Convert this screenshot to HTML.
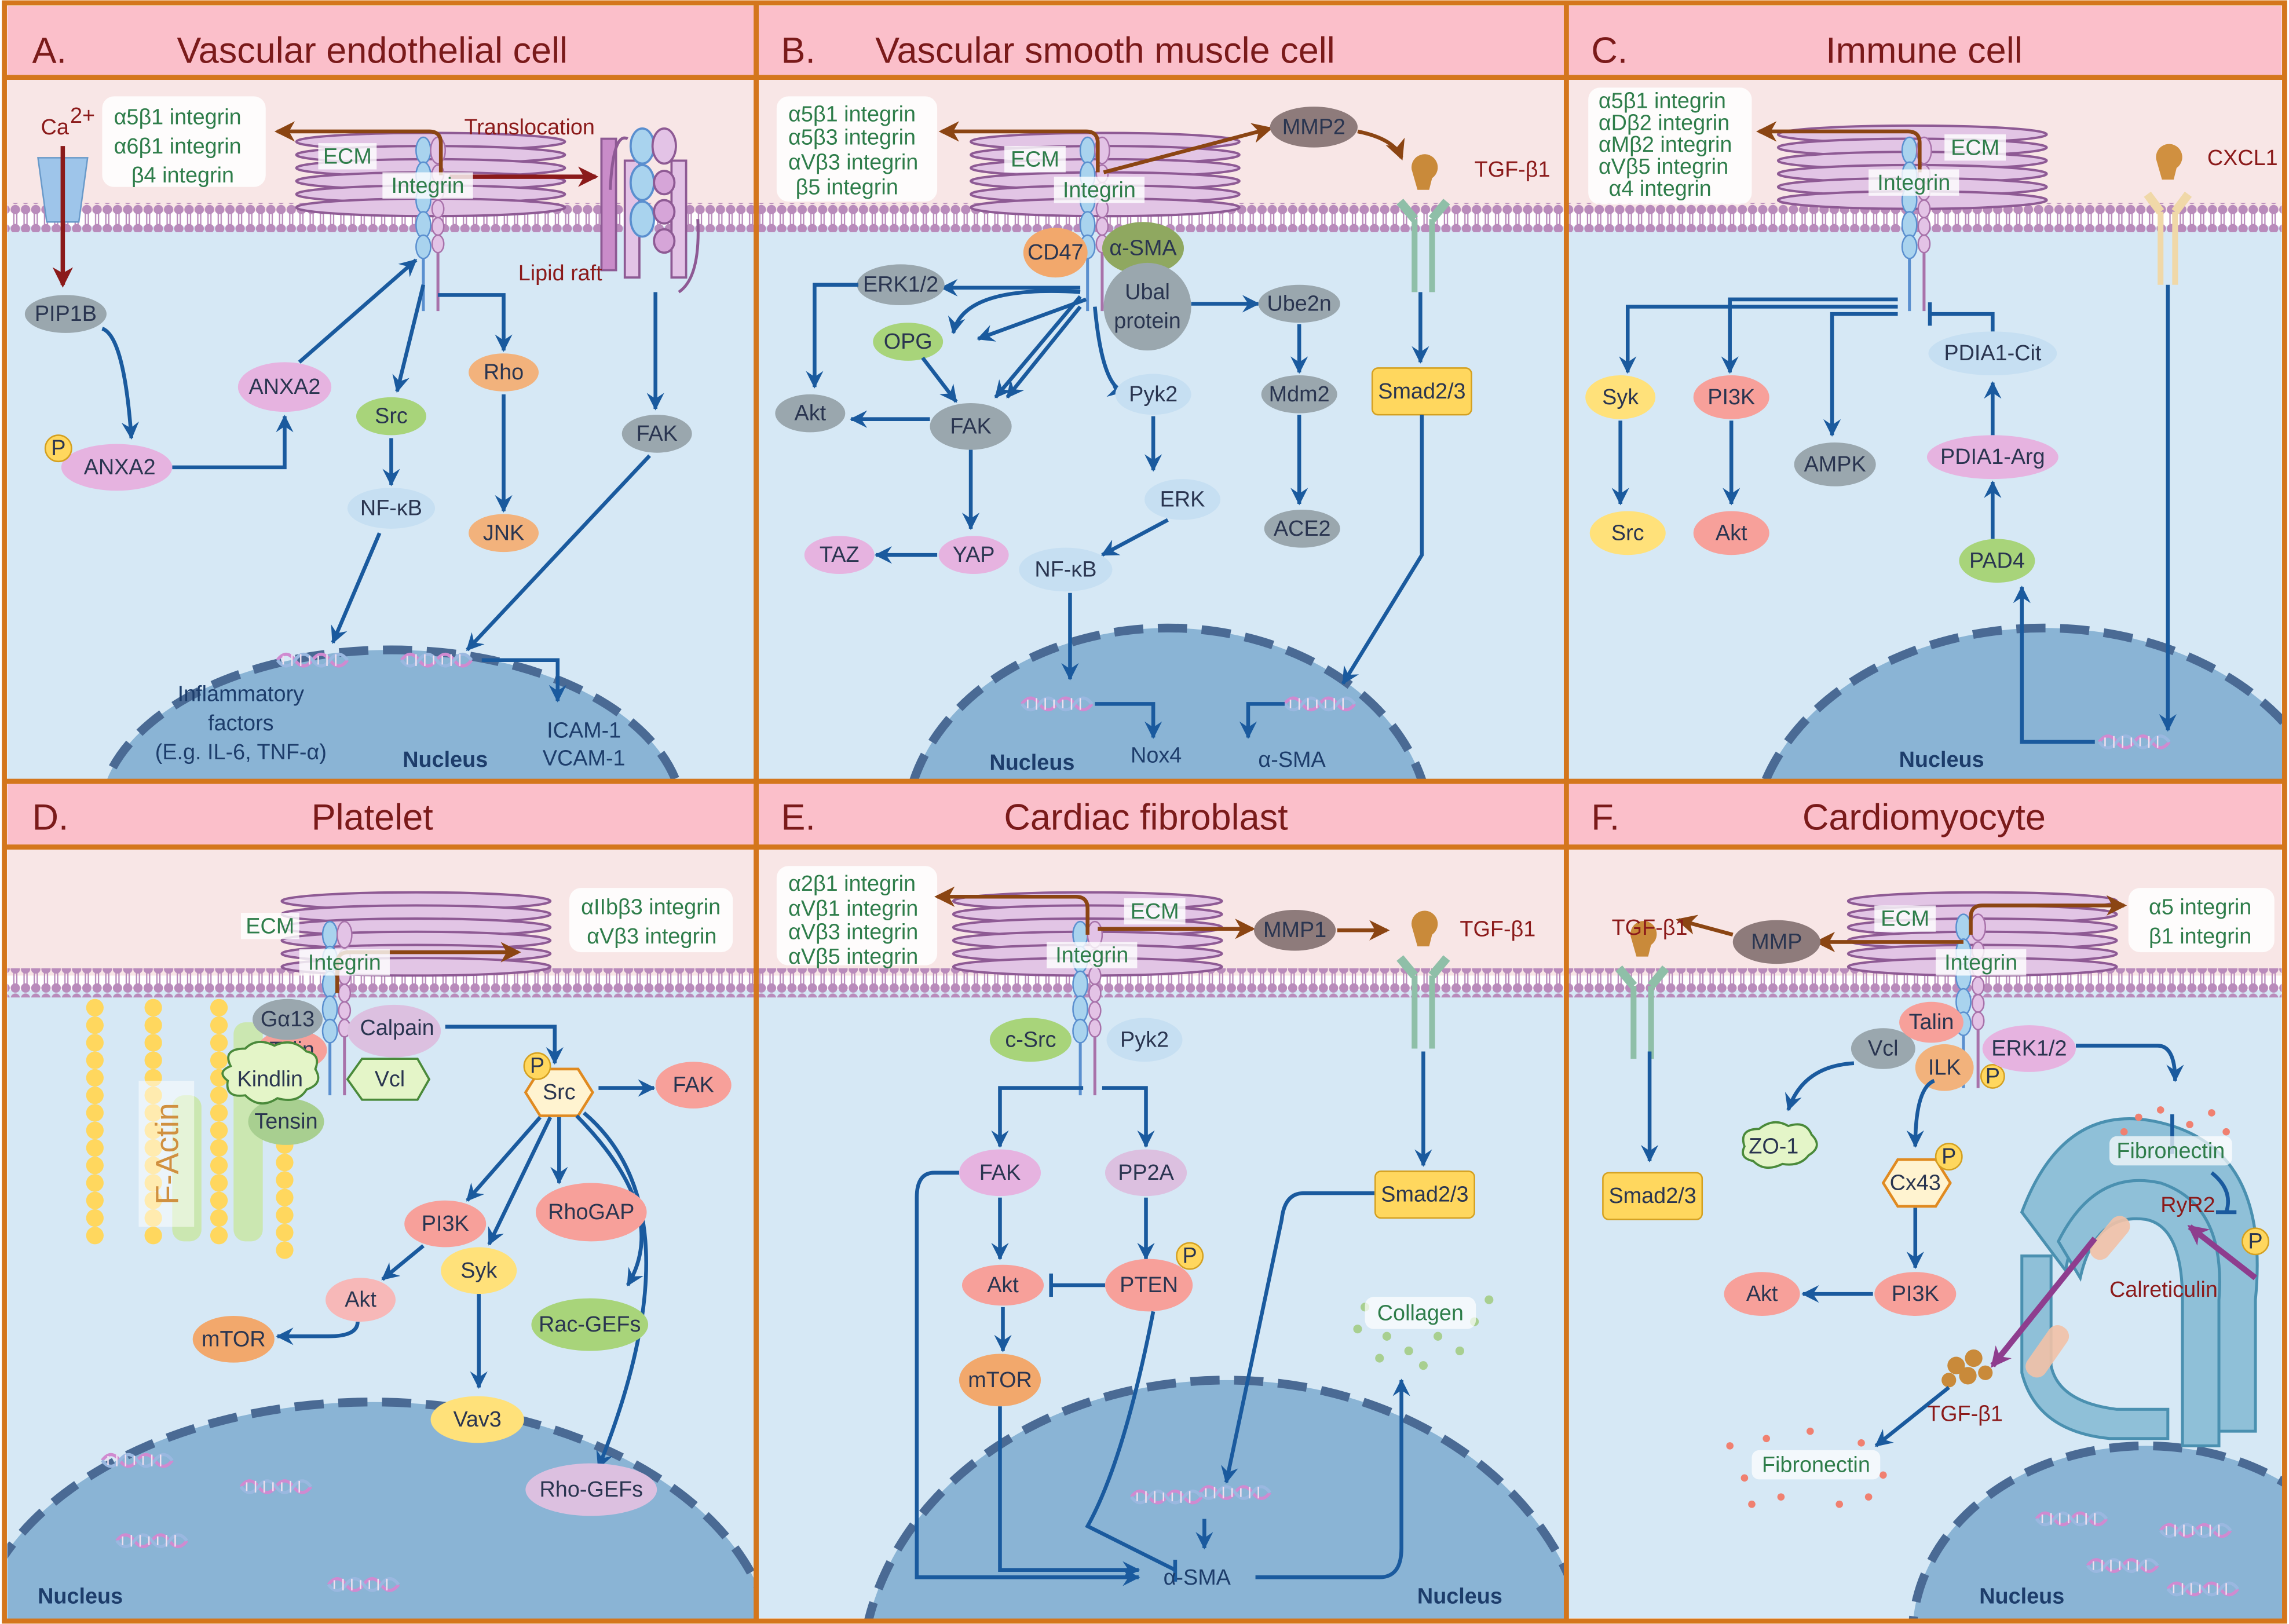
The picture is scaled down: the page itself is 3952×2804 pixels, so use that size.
<!DOCTYPE html>
<html><head><meta charset="utf-8"><style>
html,body{margin:0;padding:0;background:#fff;width:3952px;height:2804px;overflow:hidden}
svg{display:block}
text{font-family:"Liberation Sans",Arial,sans-serif}
.t{font-size:25px;fill:#7a1a1a}
.n{font-size:15px;fill:#2a3550;text-anchor:middle;dominant-baseline:central}
.g{font-size:15px;fill:#2e7d4a}
.w{font-size:15px;fill:#1d3d6b;text-anchor:middle}
.r{font-size:15px;fill:#8b1a1a}
.bl{stroke:#1a5a9e;stroke-width:2.6;fill:none;marker-end:url(#ab)}
.bb{stroke:#1a5a9e;stroke-width:2.6;fill:none}
.br{stroke:#8b4513;stroke-width:2.6;fill:none;marker-end:url(#abr)}
</style></head><body>
<svg width="3952" height="2804" viewBox="0 0 1568 1112" preserveAspectRatio="none" xmlns="http://www.w3.org/2000/svg">
<defs>
<marker id="ab" markerUnits="userSpaceOnUse" markerWidth="14" markerHeight="14" refX="11" refY="7" orient="auto"><path d="M0,1 L12,7 L0,13 L4,7z" fill="#1a5a9e"/></marker>
<marker id="abr" markerUnits="userSpaceOnUse" markerWidth="16" markerHeight="16" refX="12" refY="8" orient="auto"><path d="M0,1 L14,8 L0,15 L4,8z" fill="#8b4513"/></marker>
<marker id="ard" markerUnits="userSpaceOnUse" markerWidth="16" markerHeight="16" refX="12" refY="8" orient="auto"><path d="M0,1 L14,8 L0,15 L4,8z" fill="#8b1a1a"/></marker>
<marker id="apu" markerUnits="userSpaceOnUse" markerWidth="16" markerHeight="16" refX="12" refY="8" orient="auto"><path d="M0,1 L14,8 L0,15 L4,8z" fill="#8e3d8e"/></marker>
<clipPath id="cA"><rect x="5" y="53" width="513" height="482"/></clipPath>
<clipPath id="cB"><rect x="518" y="53" width="555" height="482"/></clipPath>
<clipPath id="cC"><rect x="1073" y="53" width="492" height="482"/></clipPath>
<clipPath id="cD"><rect x="5" y="580" width="513" height="530"/></clipPath>
<clipPath id="cE"><rect x="518" y="580" width="555" height="530"/></clipPath>
<clipPath id="cF"><rect x="1073" y="580" width="492" height="530"/></clipPath>
<pattern id="mem" width="7" height="20" patternUnits="userSpaceOnUse">
<circle cx="3.5" cy="3.5" r="3.2" fill="#b98bbb"/><circle cx="3.5" cy="16.5" r="3.2" fill="#b98bbb"/>
<line x1="2.5" y1="6" x2="2.5" y2="14" stroke="#b98bbb" stroke-width="0.9"/><line x1="4.5" y1="6" x2="4.5" y2="14" stroke="#b98bbb" stroke-width="0.9"/>
</pattern>
<g id="ecm">
<ellipse cx="0" cy="0" rx="92" ry="6" fill="#e2c5e5" stroke="#8e5a94" stroke-width="1.6"/>
<ellipse cx="0" cy="9" rx="92" ry="6" fill="#e2c5e5" stroke="#8e5a94" stroke-width="1.6"/>
<ellipse cx="0" cy="18" rx="92" ry="6" fill="#e2c5e5" stroke="#8e5a94" stroke-width="1.6"/>
<ellipse cx="0" cy="27" rx="92" ry="6" fill="#e2c5e5" stroke="#8e5a94" stroke-width="1.6"/>
<ellipse cx="0" cy="36" rx="92" ry="6" fill="#e2c5e5" stroke="#8e5a94" stroke-width="1.6"/>
<ellipse cx="0" cy="45" rx="92" ry="6" fill="#e2c5e5" stroke="#8e5a94" stroke-width="1.6"/>
</g>
<g id="itg">
<line x1="0" y1="60" x2="0" y2="110" stroke="#5a8fcf" stroke-width="2"/>
<line x1="10" y1="60" x2="10" y2="110" stroke="#a872aa" stroke-width="2"/>
<ellipse cx="0" cy="0" rx="5" ry="9" fill="#a9d3ee" stroke="#5a8fcf"/>
<ellipse cx="0" cy="17" rx="5" ry="9" fill="#a9d3ee" stroke="#5a8fcf"/>
<ellipse cx="0" cy="34" rx="5" ry="9" fill="#a9d3ee" stroke="#5a8fcf"/>
<ellipse cx="0" cy="51" rx="5" ry="9" fill="#a9d3ee" stroke="#5a8fcf"/>
<ellipse cx="0" cy="66" rx="5" ry="8" fill="#a9d3ee" stroke="#5a8fcf"/>
<ellipse cx="10" cy="0" rx="5" ry="9" fill="#e3c3e6" stroke="#a872aa"/>
<ellipse cx="10" cy="16" rx="4" ry="6" fill="#e3c3e6" stroke="#a872aa"/>
<ellipse cx="10" cy="28" rx="4" ry="6" fill="#e3c3e6" stroke="#a872aa"/>
<ellipse cx="10" cy="40" rx="4" ry="6" fill="#e3c3e6" stroke="#a872aa"/>
<ellipse cx="10" cy="52" rx="4" ry="6" fill="#e3c3e6" stroke="#a872aa"/>
<ellipse cx="10" cy="64" rx="4" ry="6" fill="#e3c3e6" stroke="#a872aa"/>
</g>
<g id="tgf">
<line x1="-6" y1="20" x2="-6" y2="70" stroke="#8fbfa8" stroke-width="4"/>
<line x1="6" y1="20" x2="6" y2="70" stroke="#8fbfa8" stroke-width="4"/>
<path d="M-6,20 L-16,8 M6,20 L16,8" stroke="#8fbfa8" stroke-width="6" fill="none"/>
<path d="M-8,-14 a9,9 0 1,1 14,6 l-2,8 l-8,0z" fill="#c98a3a"/>
</g>
<g id="dna" stroke-width="2.2" fill="none">
<path d="M0,0 q6,-8 12,0 t12,0 t12,0 t12,0" stroke="#d08ad0"/>
<path d="M0,0 q6,8 12,0 t12,0 t12,0 t12,0" stroke="#9ab8e0"/>
<path d="M4,-3 v6 M10,-4 v8 M16,-4 v8 M22,-3 v6 M28,-3 v6 M34,-4 v8 M40,-4 v8" stroke="#f0e0f0" stroke-width="1"/>
</g>
<g id="chain" fill="#ffd75e"><circle cx="0" cy="690" r="6"/><circle cx="0" cy="702" r="6"/><circle cx="0" cy="714" r="6"/><circle cx="0" cy="726" r="6"/><circle cx="0" cy="738" r="6"/><circle cx="0" cy="750" r="6"/><circle cx="0" cy="762" r="6"/><circle cx="0" cy="774" r="6"/><circle cx="0" cy="786" r="6"/><circle cx="0" cy="798" r="6"/><circle cx="0" cy="810" r="6"/><circle cx="0" cy="822" r="6"/><circle cx="0" cy="834" r="6"/><circle cx="0" cy="846" r="6"/></g>
</defs>

<rect width="1568" height="1112" fill="#fff"/>
<rect x="5" y="52" width="1558" height="93" fill="#f8e6e6"/>
<rect x="5" y="155" width="1558" height="380" fill="#d6e8f5"/>
<rect x="5" y="580" width="1558" height="88" fill="#f8e6e6"/>
<rect x="5" y="678" width="1558" height="430" fill="#d6e8f5"/>
<rect x="5" y="4" width="1558" height="48" fill="#fbbfca"/>
<rect x="5" y="535" width="1558" height="44" fill="#fbbfca"/>
<rect x="5" y="139" width="1558" height="20" fill="url(#mem)"/>
<rect x="5" y="663" width="1558" height="20" fill="url(#mem)"/>

<g fill="#8ab4d5" stroke="#4a6a94" stroke-width="6" stroke-dasharray="20,10">
<ellipse cx="268" cy="560" rx="200" ry="115" clip-path="url(#cA)"/>
<ellipse cx="800" cy="570" rx="180" ry="140" clip-path="url(#cB)"/>
<ellipse cx="1400" cy="580" rx="200" ry="150" clip-path="url(#cC)"/>
<ellipse cx="255" cy="1135" rx="275" ry="175" clip-path="url(#cD)"/>
<ellipse cx="840" cy="1150" rx="250" ry="205" clip-path="url(#cE)"/>
<ellipse cx="1470" cy="1120" rx="160" ry="130" clip-path="url(#cF)"/>
</g>
<g stroke="#d4761c" stroke-width="3.5" fill="none">
<rect x="3" y="2" width="1562" height="1108"/>
<line x1="3" y1="535" x2="1565" y2="535"/>
<line x1="3" y1="53" x2="1565" y2="53"/>
<line x1="3" y1="580" x2="1565" y2="580"/>
<line x1="518" y1="2" x2="518" y2="1110"/>
<line x1="1073" y1="2" x2="1073" y2="1110"/>
</g>
<text x="22" y="43" class="t">A.</text><text x="255" y="43" class="t" text-anchor="middle">Vascular endothelial cell</text>
<text x="535" y="43" class="t">B.</text><text x="757" y="43" class="t" text-anchor="middle">Vascular smooth muscle cell</text>
<text x="1090" y="43" class="t">C.</text><text x="1318" y="43" class="t" text-anchor="middle">Immune cell</text>
<text x="22" y="568" class="t">D.</text><text x="255" y="568" class="t" text-anchor="middle">Platelet</text>
<text x="535" y="568" class="t">E.</text><text x="785" y="568" class="t" text-anchor="middle">Cardiac fibroblast</text>
<text x="1090" y="568" class="t">F.</text><text x="1318" y="568" class="t" text-anchor="middle">Cardiomyocyte</text>

<use href="#ecm" x="295" y="97"/><use href="#itg" x="290" y="103"/>
<use href="#ecm" x="757" y="97"/><use href="#itg" x="745" y="103"/>
<use href="#ecm" x="1310" y="92"/><use href="#itg" x="1308" y="103"/>
<use href="#ecm" x="285" y="617"/><use href="#itg" x="226" y="640"/>
<use href="#ecm" x="745" y="617"/><use href="#itg" x="740" y="640"/>
<use href="#ecm" x="1358" y="617"/><use href="#itg" x="1345" y="635"/>

<!-- ===== Panel A ===== -->
<rect x="70" y="66" width="112" height="62" rx="8" fill="#fff" opacity=".85"/>
<text x="78" y="85" class="g">α5β1 integrin</text><text x="78" y="105" class="g">α6β1 integrin</text><text x="90" y="125" class="g">β4 integrin</text>
<path d="M302,120 V98 Q302,90 294,90 H190" class="br"/>
<path d="M308,121 H408" stroke="#8b1a1a" stroke-width="3" marker-end="url(#ard)"/>
<text x="318" y="92" class="r">Translocation</text>
<rect x="218" y="98" width="40" height="18" fill="#fff" opacity=".8"/><text x="238" y="112" class="g" text-anchor="middle">ECM</text>
<rect x="262" y="118" width="62" height="18" fill="#fff" opacity=".8"/><text x="293" y="132" class="g" text-anchor="middle">Integrin</text>
<g fill="#d6a5d8" stroke="#8e5a94" stroke-width="1.5">
<rect x="412" y="95" width="10" height="90" fill="#c98cc9"/>
<rect x="428" y="110" width="10" height="80" fill="#e3c3e6"/>
<rect x="460" y="110" width="10" height="80" fill="#e3c3e6"/>
<ellipse cx="440" cy="100" rx="8" ry="12" fill="#a9d3ee" stroke="#5a8fcf"/>
<ellipse cx="440" cy="125" rx="8" ry="12" fill="#a9d3ee" stroke="#5a8fcf"/>
<ellipse cx="440" cy="150" rx="8" ry="12" fill="#a9d3ee" stroke="#5a8fcf"/>
<ellipse cx="455" cy="100" rx="8" ry="12" fill="#e3c3e6"/>
<ellipse cx="455" cy="125" rx="7" ry="8"/><ellipse cx="455" cy="145" rx="7" ry="8"/><ellipse cx="455" cy="165" rx="7" ry="8"/>
</g>
<path d="M418,130 Q420,90 430,95 M465,200 Q480,190 478,150" stroke="#8e5a94" stroke-width="2" fill="none"/>
<text x="355" y="192" class="r">Lipid raft</text>
<path d="M26,108 h34 l-6,44 h-22z" fill="#9ec5ea" stroke="#6a9ac9"/>
<text x="28" y="92" class="r">Ca</text><text x="48" y="84" class="r" font-size="11">2+</text>
<path d="M43,100 V195" stroke="#8b1a1a" stroke-width="3" marker-end="url(#ard)"/>
<ellipse cx="45" cy="215" rx="28" ry="13" fill="#9aa7ae"/><text x="45" y="215" class="n">PIP1B</text>
<path d="M70,225 Q85,230 90,300" class="bl"/>
<ellipse cx="80" cy="320" rx="38" ry="16" fill="#e6b3e0"/><text x="82" y="320" class="n">ANXA2</text>
<circle cx="40" cy="307" r="9" fill="#ffd75e" stroke="#d4a020"/><text x="40" y="307" class="n" font-size="12">P</text>
<path d="M118,320 H195 V285" class="bl"/>
<ellipse cx="195" cy="265" rx="32" ry="17" fill="#e6b3e0"/><text x="195" y="265" class="n">ANXA2</text>
<path d="M205,248 L285,178" class="bl"/>
<path d="M290,195 L272,268" class="bl"/>
<path d="M300,202 H345 V240" class="bl"/>
<ellipse cx="268" cy="285" rx="24" ry="13" fill="#a8d47a"/><text x="268" y="285" class="n">Src</text>
<ellipse cx="345" cy="255" rx="24" ry="13" fill="#f2b27c"/><text x="345" y="255" class="n">Rho</text>
<path d="M268,300 V332" class="bl"/><path d="M345,270 V350" class="bl"/>
<ellipse cx="268" cy="348" rx="30" ry="14" fill="#c6dff2"/><text x="268" y="348" class="n">NF-κB</text>
<ellipse cx="345" cy="365" rx="24" ry="13" fill="#f2b27c"/><text x="345" y="365" class="n">JNK</text>
<path d="M449,200 V280" class="bl"/>
<ellipse cx="450" cy="297" rx="24" ry="13" fill="#9aa7ae"/><text x="450" y="297" class="n">FAK</text>
<path d="M445,312 L320,445" class="bl"/><path d="M260,365 L228,440" class="bl"/>
<use href="#dna" x="190" y="452"/><use href="#dna" x="275" y="452"/>
<path d="M330,452 H382 V480" class="bl"/>
<text x="165" y="480" class="w">Inflammatory</text><text x="165" y="500" class="w">factors</text><text x="165" y="520" class="w">(E.g. IL-6, TNF-α)</text>
<text x="305" y="525" class="w" font-weight="bold" font-size="17">Nucleus</text>
<text x="400" y="505" class="w">ICAM-1</text><text x="400" y="524" class="w">VCAM-1</text>

<!-- ===== Panel B ===== -->
<rect x="532" y="66" width="110" height="72" rx="8" fill="#fff" opacity=".85"/>
<text x="540" y="83" class="g">α5β1 integrin</text><text x="540" y="99" class="g">α5β3 integrin</text><text x="540" y="116" class="g">αVβ3 integrin</text><text x="545" y="133" class="g">β5 integrin</text>
<path d="M752,118 V98 Q752,90 744,90 H645" class="br"/>
<path d="M756,118 L870,88" class="br"/>
<ellipse cx="900" cy="87" rx="30" ry="14" fill="#8e7b7b"/><text x="900" y="87" class="n">MMP2</text>
<path d="M930,90 Q955,95 960,108" class="br"/>
<use href="#tgf" x="975" y="130"/><text x="1010" y="121" class="r">TGF-β1</text>
<rect x="688" y="100" width="42" height="18" fill="#fff" opacity=".8"/><text x="709" y="114" class="g" text-anchor="middle">ECM</text>
<rect x="722" y="121" width="62" height="18" fill="#fff" opacity=".8"/><text x="753" y="135" class="g" text-anchor="middle">Integrin</text>
<ellipse cx="723" cy="173" rx="22" ry="17" fill="#f2a86c"/><text x="723" y="173" class="n">CD47</text>
<ellipse cx="783" cy="170" rx="28" ry="18" fill="#8fa860"/><text x="783" y="170" class="n">α-SMA</text>
<ellipse cx="786" cy="210" rx="30" ry="30" fill="#9aa7ae"/><text x="786" y="200" class="n">Ubal</text><text x="786" y="220" class="n">protein</text>
<path d="M740,197 H645" class="bl"/><path d="M740,200 Q660,195 653,228" class="bl"/>
<path d="M740,203 L682,272" class="bl"/><path d="M744,205 L670,232" class="bl"/>
<path d="M740,210 L690,272" class="bl"/><path d="M750,210 Q755,265 770,268" class="bl"/>
<path d="M816,208 H862" class="bl"/>
<ellipse cx="617" cy="195" rx="30" ry="14" fill="#9aa7ae"/><text x="617" y="195" class="n">ERK1/2</text>
<path d="M588,195 H558 V265" class="bl"/>
<ellipse cx="622" cy="234" rx="24" ry="13" fill="#a8d47a"/><text x="622" y="234" class="n">OPG</text>
<path d="M632,245 L655,275" class="bl"/>
<ellipse cx="555" cy="283" rx="24" ry="13" fill="#9aa7ae"/><text x="555" y="283" class="n">Akt</text>
<ellipse cx="665" cy="292" rx="28" ry="16" fill="#9aa7ae"/><text x="665" y="292" class="n">FAK</text>
<path d="M637,287 H583" class="bl"/><path d="M665,308 V362" class="bl"/>
<ellipse cx="667" cy="380" rx="24" ry="13" fill="#e6b3e0"/><text x="667" y="380" class="n">YAP</text>
<path d="M642,380 H600" class="bl"/>
<ellipse cx="575" cy="380" rx="24" ry="13" fill="#e6b3e0"/><text x="575" y="380" class="n">TAZ</text>
<ellipse cx="790" cy="270" rx="26" ry="14" fill="#c6dff2"/><text x="790" y="270" class="n">Pyk2</text>
<path d="M790,285 V322" class="bl"/>
<ellipse cx="810" cy="342" rx="26" ry="14" fill="#c6dff2"/><text x="810" y="342" class="n">ERK</text>
<path d="M800,356 L755,380" class="bl"/>
<ellipse cx="730" cy="390" rx="32" ry="15" fill="#c6dff2"/><text x="730" y="390" class="n">NF-κB</text>
<ellipse cx="890" cy="208" rx="28" ry="13" fill="#9aa7ae"/><text x="890" y="208" class="n">Ube2n</text>
<path d="M890,222 V255" class="bl"/>
<ellipse cx="890" cy="270" rx="26" ry="13" fill="#9aa7ae"/><text x="890" y="270" class="n">Mdm2</text>
<path d="M890,284 V345" class="bl"/>
<ellipse cx="892" cy="362" rx="26" ry="13" fill="#9aa7ae"/><text x="892" y="362" class="n">ACE2</text>
<path d="M973,200 V248" class="bl"/>
<rect x="940" y="252" width="68" height="32" rx="4" fill="#ffd75e" stroke="#d4a020"/><text x="974" y="268" class="n">Smad2/3</text>
<path d="M974,284 V380 L920,468" class="bl"/>
<path d="M733,406 V465" class="bl"/>
<use href="#dna" x="700" y="482"/><use href="#dna" x="880" y="482"/>
<path d="M750,482 H790 V505" class="bl"/><path d="M880,482 H855 V505" class="bl"/>
<text x="707" y="527" class="w" font-weight="bold" font-size="17">Nucleus</text>
<text x="792" y="522" class="w">Nox4</text><text x="885" y="525" class="w">α-SMA</text>

<!-- ===== Panel C ===== -->
<rect x="1088" y="60" width="112" height="80" rx="8" fill="#fff" opacity=".85"/>
<text x="1095" y="74" class="g">α5β1 integrin</text><text x="1095" y="89" class="g">αDβ2 integrin</text><text x="1095" y="104" class="g">αMβ2 integrin</text><text x="1095" y="119" class="g">αVβ5 integrin</text><text x="1102" y="134" class="g">α4 integrin</text>
<path d="M1315,118 V98 Q1315,90 1307,90 H1205" class="br"/>
<rect x="1332" y="92" width="42" height="18" fill="#fff" opacity=".8"/><text x="1353" y="106" class="g" text-anchor="middle">ECM</text>
<rect x="1280" y="116" width="62" height="18" fill="#fff" opacity=".8"/><text x="1311" y="130" class="g" text-anchor="middle">Integrin</text>
<g transform="translate(1485,125)"><line x1="-5" y1="20" x2="-5" y2="70" stroke="#f0d8a8" stroke-width="4"/><line x1="5" y1="20" x2="5" y2="70" stroke="#f0d8a8" stroke-width="4"/><path d="M-5,20 L-14,8 M5,20 L14,8" stroke="#f0d8a8" stroke-width="6"/><path d="M-8,-16 a9,9 0 1,1 14,6 l-2,8 l-8,0z" fill="#d09040"/></g>
<text x="1512" y="113" class="r">CXCL1</text>
<path d="M1485,195 V500" class="bl"/>
<path d="M1300,210 H1115 V255" class="bl"/><path d="M1300,205 H1185 V255" class="bl"/>
<path d="M1300,215 H1255 V298" class="bl"/>
<path d="M1365,227 V215 H1322 M1322,207 V223" class="bb"/>
<path d="M1365,298 V262" class="bl"/><path d="M1365,369 V330" class="bl"/>
<path d="M1435,508 H1385 V402" class="bl"/>
<ellipse cx="1110" cy="272" rx="24" ry="15" fill="#ffe17a"/><text x="1110" y="272" class="n">Syk</text>
<path d="M1110,288 V345" class="bl"/>
<ellipse cx="1115" cy="365" rx="26" ry="15" fill="#ffe17a"/><text x="1115" y="365" class="n">Src</text>
<ellipse cx="1186" cy="272" rx="26" ry="15" fill="#f7a09a"/><text x="1186" y="272" class="n">PI3K</text>
<path d="M1186,288 V345" class="bl"/>
<ellipse cx="1186" cy="365" rx="26" ry="15" fill="#f7a09a"/><text x="1186" y="365" class="n">Akt</text>
<ellipse cx="1257" cy="318" rx="28" ry="15" fill="#9aa7ae"/><text x="1257" y="318" class="n">AMPK</text>
<ellipse cx="1365" cy="242" rx="44" ry="15" fill="#c6dff2"/><text x="1365" y="242" class="n">PDIA1-Cit</text>
<ellipse cx="1365" cy="313" rx="45" ry="15" fill="#e6b3e0"/><text x="1365" y="313" class="n">PDIA1-Arg</text>
<ellipse cx="1368" cy="384" rx="26" ry="15" fill="#a8d47a"/><text x="1368" y="384" class="n">PAD4</text>
<use href="#dna" x="1438" y="508"/>
<text x="1330" y="525" class="w" font-weight="bold" font-size="17">Nucleus</text>

<!-- ===== Panel D ===== -->
<use href="#chain" x="65"/><use href="#chain" x="105"/><use href="#chain" x="150"/><use href="#chain" x="195" y="10"/>
<g fill="#c8e6a0" opacity=".8"><rect x="118" y="750" width="20" height="100" rx="8"/><rect x="160" y="700" width="20" height="150" rx="8"/></g>
<rect x="95" y="740" width="38" height="100" fill="#fff" opacity=".5"/>
<text x="122" y="790" font-size="22" fill="#d09040" text-anchor="middle" transform="rotate(-90 122 790)">F-Actin</text>
<path d="M231,680 V660 Q231,652 239,652 H355" class="br"/>
<rect x="390" y="608" width="112" height="44" rx="8" fill="#fff" opacity=".85"/>
<text x="398" y="626" class="g">αIIbβ3 integrin</text><text x="402" y="646" class="g">αVβ3 integrin</text>
<rect x="165" y="625" width="40" height="18" fill="#fff" opacity=".8"/><text x="185" y="639" class="g" text-anchor="middle">ECM</text>
<rect x="205" y="650" width="62" height="18" fill="#fff" opacity=".8"/><text x="236" y="664" class="g" text-anchor="middle">Integrin</text>
<ellipse cx="200" cy="719" rx="24" ry="14" fill="#f7a09a"/><text x="200" y="719" class="n">Talin</text>
<ellipse cx="197" cy="698" rx="24" ry="14" fill="#9aa7ae"/><text x="197" y="698" class="n">Gα13</text>
<ellipse cx="196" cy="768" rx="26" ry="16" fill="#a8cf90"/><text x="196" y="768" class="n" fill="#1e5c2a">Tensin</text>
<path d="M158,730 q-6,-12 10,-12 q8,-8 20,-2 q12,-6 22,4 q10,2 6,12 q6,10 -6,14 q-6,10 -20,6 q-12,8 -22,-2 q-14,2 -12,-10 q-8,-6 2,-10z" fill="#e4f5c8" stroke="#4a8a3a" stroke-width="1.5"/>
<text x="185" y="739" class="n" fill="#1e5c2a">Kindlin</text>
<ellipse cx="270" cy="706" rx="32" ry="18" fill="#dcc0e0"/><text x="272" y="704" class="n" fill="#7a4a8a">Calpain</text>
<path d="M238,739 l10,-14 h38 l8,14 l-8,14 h-38z" fill="#e4f5c8" stroke="#4a8a3a" stroke-width="1.5"/><text x="267" y="739" class="n" fill="#1e5c2a">Vcl</text>
<path d="M305,703 H380 V728" class="bl"/>
<path d="M360,748 l10,-16 h26 l10,16 l-10,16 h-26z" fill="#fff3d0" stroke="#e08a20" stroke-width="1.8"/><text x="383" y="748" class="n" fill="#c06010">Src</text>
<circle cx="368" cy="730" r="9" fill="#ffd75e" stroke="#d4a020"/><text x="368" y="730" class="n" font-size="12">P</text>
<path d="M410,745 H448" class="bl"/>
<ellipse cx="475" cy="743" rx="26" ry="16" fill="#f7a09a"/><text x="475" y="743" class="n">FAK</text>
<path d="M370,765 L320,822" class="bl"/><path d="M383,765 V810" class="bl"/><path d="M377,765 L335,852" class="bl"/>
<path d="M395,764 Q460,830 430,880" class="bl"/><path d="M400,762 Q480,830 410,1005" class="bl"/>
<ellipse cx="305" cy="838" rx="28" ry="16" fill="#f7a09a"/><text x="305" y="838" class="n">PI3K</text>
<path d="M290,853 L262,876" class="bl"/>
<ellipse cx="405" cy="830" rx="38" ry="20" fill="#f7a09a"/><text x="405" y="830" class="n">RhoGAP</text>
<ellipse cx="328" cy="870" rx="26" ry="16" fill="#ffe17a"/><text x="328" y="870" class="n">Syk</text>
<path d="M328,886 V950" class="bl"/>
<ellipse cx="404" cy="907" rx="40" ry="18" fill="#a8d47a"/><text x="404" y="907" class="n">Rac-GEFs</text>
<ellipse cx="247" cy="890" rx="24" ry="15" fill="#f7b8b8"/><text x="247" y="890" class="n">Akt</text>
<path d="M245,905 Q245,915 225,915 H190" class="bl"/>
<ellipse cx="160" cy="917" rx="28" ry="16" fill="#f2a86c"/><text x="160" y="917" class="n">mTOR</text>
<ellipse cx="327" cy="972" rx="32" ry="16" fill="#ffe17a"/><text x="327" y="972" class="n">Vav3</text>
<ellipse cx="405" cy="1020" rx="45" ry="18" fill="#dcc0e0"/><text x="405" y="1020" class="n" fill="#7a4a8a">Rho-GEFs</text>
<use href="#dna" x="70" y="1000"/><use href="#dna" x="165" y="1018"/><use href="#dna" x="80" y="1055"/><use href="#dna" x="225" y="1085"/>
<text x="55" y="1098" class="w" font-weight="bold" font-size="17">Nucleus</text>

<!-- ===== Panel E ===== -->
<rect x="532" y="593" width="110" height="68" rx="8" fill="#fff" opacity=".85"/>
<text x="540" y="610" class="g">α2β1 integrin</text><text x="540" y="627" class="g">αVβ1 integrin</text><text x="540" y="643" class="g">αVβ3 integrin</text><text x="540" y="660" class="g">αVβ5 integrin</text>
<path d="M745,640 V622 Q745,614 737,614 H642" class="br"/>
<path d="M752,636 H858" class="br"/>
<ellipse cx="887" cy="637" rx="28" ry="14" fill="#8e7b7b"/><text x="887" y="637" class="n">MMP1</text>
<path d="M916,637 H950" class="br"/>
<use href="#tgf" x="975" y="648"/><text x="1000" y="641" class="r">TGF-β1</text>
<rect x="770" y="615" width="42" height="18" fill="#fff" opacity=".8"/><text x="791" y="629" class="g" text-anchor="middle">ECM</text>
<rect x="717" y="645" width="62" height="18" fill="#fff" opacity=".8"/><text x="748" y="659" class="g" text-anchor="middle">Integrin</text>
<ellipse cx="706" cy="712" rx="28" ry="15" fill="#a8d47a"/><text x="706" y="712" class="n">c-Src</text>
<ellipse cx="784" cy="712" rx="26" ry="15" fill="#c6dff2"/><text x="784" y="712" class="n">Pyk2</text>
<path d="M742,745 H685 V785" class="bl"/><path d="M755,745 H785 V785" class="bl"/>
<ellipse cx="685" cy="803" rx="28" ry="16" fill="#e6b3e0"/><text x="685" y="803" class="n">FAK</text>
<ellipse cx="785" cy="803" rx="28" ry="16" fill="#dcc0e0"/><text x="785" y="803" class="n" fill="#7a4a8a">PP2A</text>
<path d="M685,820 V862" class="bl"/><path d="M785,820 V862" class="bl"/>
<ellipse cx="687" cy="880" rx="28" ry="14" fill="#f7a09a"/><text x="687" y="880" class="n">Akt</text>
<ellipse cx="787" cy="880" rx="30" ry="18" fill="#f7a09a"/><text x="787" y="880" class="n">PTEN</text>
<circle cx="815" cy="860" r="9" fill="#ffd75e" stroke="#d4a020"/><text x="815" y="860" class="n" font-size="12">P</text>
<path d="M757,880 H720 M720,872 V888" class="bb"/>
<path d="M687,895 V925" class="bl"/>
<ellipse cx="685" cy="945" rx="28" ry="18" fill="#f2a86c"/><text x="685" y="945" class="n">mTOR</text>
<path d="M657,803 H640 Q628,803 628,820 V1080 H780" class="bl"/>
<path d="M685,963 V1075 H780" class="bl"/>
<path d="M790,898 Q770,1000 745,1045 L805,1075 M805,1068 V1083" class="bb"/>
<path d="M942,817 H893 Q880,817 878,835 L840,1015" class="bl"/>
<use href="#dna" x="775" y="1025"/><use href="#dna" x="822" y="1022"/>
<path d="M825,1040 V1060" class="bl"/>
<text x="820" y="1085" class="w">α-SMA</text>
<path d="M860,1080 H945 Q960,1080 960,1060 V945" class="bl"/>
<rect x="942" y="802" width="68" height="32" rx="4" fill="#ffd75e" stroke="#d4a020"/><text x="976" y="818" class="n">Smad2/3</text>
<path d="M975,720 V798" class="bl"/>
<g fill="#a8cf90"><circle cx="935" cy="895" r="3"/><circle cx="950" cy="915" r="3"/><circle cx="965" cy="925" r="3"/><circle cx="985" cy="915" r="3"/><circle cx="1010" cy="905" r="3"/><circle cx="1000" cy="925" r="3"/><circle cx="945" cy="930" r="3"/><circle cx="1020" cy="890" r="3"/><circle cx="930" cy="910" r="3"/><circle cx="975" cy="935" r="3"/></g>
<rect x="935" y="888" width="76" height="22" rx="6" fill="#fff" opacity=".7"/><text x="973" y="904" class="g" text-anchor="middle">Collagen</text>
<text x="1000" y="1098" class="w" font-weight="bold" font-size="17">Nucleus</text>

<!-- ===== Panel F ===== -->
<path d="M1350,640 V628 Q1350,620 1358,620 H1455" class="br"/>
<path d="M1345,645 H1245" class="br"/>
<ellipse cx="1217" cy="645" rx="30" ry="15" fill="#8e7b7b"/><text x="1217" y="645" class="n">MMP</text>
<path d="M1187,640 L1150,630" class="br"/>
<use href="#tgf" x="1125" y="655"/><text x="1130" y="640" class="r" text-anchor="middle">TGF-β1</text>
<rect x="1458" y="608" width="100" height="44" rx="8" fill="#fff" opacity=".85"/>
<text x="1472" y="626" class="g">α5 integrin</text><text x="1472" y="646" class="g">β1 integrin</text>
<rect x="1284" y="620" width="42" height="18" fill="#fff" opacity=".8"/><text x="1305" y="634" class="g" text-anchor="middle">ECM</text>
<rect x="1326" y="650" width="62" height="18" fill="#fff" opacity=".8"/><text x="1357" y="664" class="g" text-anchor="middle">Integrin</text>
<path d="M1130,720 V795" class="bl"/>
<rect x="1098" y="803" width="68" height="32" rx="4" fill="#ffd75e" stroke="#d4a020"/><text x="1132" y="819" class="n">Smad2/3</text>
<ellipse cx="1290" cy="718" rx="22" ry="14" fill="#9aa7ae"/><text x="1290" y="718" class="n">Vcl</text>
<ellipse cx="1323" cy="700" rx="22" ry="14" fill="#f7a09a"/><text x="1323" y="700" class="n">Talin</text>
<ellipse cx="1332" cy="731" rx="20" ry="16" fill="#f2b27c"/><text x="1332" y="731" class="n">ILK</text>
<circle cx="1365" cy="737" r="8" fill="#ffd75e" stroke="#d4a020"/><text x="1365" y="737" class="n" font-size="11">P</text>
<ellipse cx="1390" cy="718" rx="32" ry="16" fill="#e6b3e0"/><text x="1390" y="718" class="n">ERK1/2</text>
<path d="M1422,716 H1478 Q1490,716 1490,740" class="bl"/>
<path d="M1270,728 Q1235,730 1225,760" class="bl"/>
<path d="M1195,785 q-4,-12 10,-12 q10,-8 20,-2 q12,-4 16,6 q8,8 -2,14 q-6,8 -18,6 q-12,6 -20,-2 q-10,-2 -6,-10z" fill="#e4f5c8" stroke="#4a8a3a" stroke-width="1.5"/>
<text x="1215" y="785" class="n" fill="#1e5c2a">ZO-1</text>
<path d="M1325,740 Q1312,745 1312,785" class="bl"/>
<path d="M1290,810 l10,-16 h26 l10,16 l-10,16 h-26z" fill="#fff3d0" stroke="#e08a20" stroke-width="1.8"/><text x="1312" y="810" class="n">Cx43</text>
<circle cx="1335" cy="792" r="9" fill="#ffd75e" stroke="#d4a020"/><text x="1335" y="792" class="n" font-size="12">P</text>
<path d="M1312,827 V868" class="bl"/>
<ellipse cx="1312" cy="886" rx="28" ry="15" fill="#f7a09a"/><text x="1312" y="886" class="n">PI3K</text>
<path d="M1283,886 H1235" class="bl"/>
<ellipse cx="1207" cy="886" rx="26" ry="15" fill="#f7a09a"/><text x="1207" y="886" class="n">Akt</text>
<g fill="#8fc0d8" stroke="#4a90b0" stroke-width="2" clip-path="url(#cF)">
<path d="M1385,830 q30,-80 100,-60 q70,20 60,120 v90 h-30 v-90 q0,-70 -40,-75 q-50,-5 -60,55z"/>
<path d="M1410,850 q25,-50 70,-40 q45,15 40,80 v100 h-25 v-100 q0,-50 -25,-55 q-35,-5 -45,40z"/>
<path d="M1385,860 v80 q10,40 60,45 h40 v-20 h-35 q-40,-5 -45,-30 v-75z"/>
</g>
<g fill="#f2c2a8" opacity=".9">
<rect x="1395" y="905" width="15" height="40" rx="7" transform="rotate(35 1402 925)"/>
<rect x="1438" y="830" width="14" height="35" rx="7" transform="rotate(40 1445 848)"/>
</g>
<path d="M1435,848 L1365,935" stroke="#8e3d8e" stroke-width="4" marker-end="url(#apu)"/>
<path d="M1545,875 L1500,840" stroke="#8e3d8e" stroke-width="4" marker-end="url(#apu)"/>
<circle cx="1545" cy="850" r="9" fill="#ffd75e" stroke="#d4a020"/><text x="1545" y="850" class="n" font-size="12">P</text>
<text x="1480" y="830" class="r">RyR2</text>
<text x="1445" y="888" class="r">Calreticulin</text>
<path d="M1488,763 V790" class="bb"/>
<rect x="1445" y="778" width="84" height="20" rx="5" fill="#fff" opacity=".7"/><text x="1487" y="793" class="g" text-anchor="middle">Fibronectin</text>
<path d="M1515,803 Q1530,815 1525,830 M1518,830 H1532" class="bb"/>
<g fill="#f08070"><circle cx="1465" cy="765" r="2.5"/><circle cx="1480" cy="760" r="2.5"/><circle cx="1500" cy="770" r="2.5"/><circle cx="1515" cy="762" r="2.5"/><circle cx="1455" cy="775" r="2.5"/><circle cx="1525" cy="775" r="2.5"/>
<circle cx="1185" cy="990" r="2.5"/><circle cx="1195" cy="1012" r="2.5"/><circle cx="1210" cy="985" r="2.5"/><circle cx="1240" cy="980" r="2.5"/><circle cx="1275" cy="988" r="2.5"/><circle cx="1290" cy="1010" r="2.5"/><circle cx="1220" cy="1025" r="2.5"/><circle cx="1260" cy="1030" r="2.5"/><circle cx="1200" cy="1030" r="2.5"/><circle cx="1280" cy="1025" r="2.5"/></g>
<g fill="#c98a3a"><circle cx="1340" cy="935" r="6"/><circle cx="1352" cy="930" r="6"/><circle cx="1348" cy="942" r="6"/><circle cx="1360" cy="940" r="5"/><circle cx="1335" cy="945" r="5"/></g>
<text x="1346" y="973" class="r" text-anchor="middle">TGF-β1</text>
<path d="M1335,950 L1285,990" class="bl"/>
<rect x="1200" y="993" width="88" height="20" rx="5" fill="#fff" opacity=".7"/><text x="1244" y="1008" class="g" text-anchor="middle">Fibronectin</text>
<use href="#dna" x="1395" y="1040"/><use href="#dna" x="1480" y="1048"/><use href="#dna" x="1430" y="1072"/><use href="#dna" x="1485" y="1088"/>
<text x="1385" y="1098" class="w" font-weight="bold" font-size="17">Nucleus</text>
</svg>
</body></html>
